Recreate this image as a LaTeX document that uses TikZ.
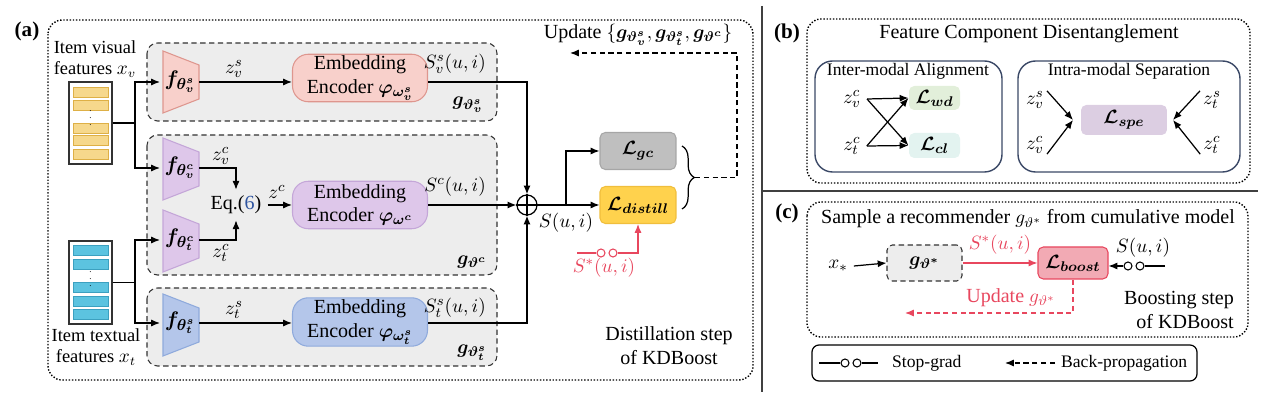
\documentclass[tikz,border=0pt]{standalone}
\usepackage{fontspec}
\setmainfont{Liberation Serif}
\usepackage{amsmath,amssymb,bm}
\usetikzlibrary{arrows.meta, calc, decorations.pathreplacing}
\definecolor{grpgray}{RGB}{237, 237, 237}
\definecolor{pinkfill}{RGB}{248, 208, 203}
\definecolor{pinkline}{RGB}{222, 150, 142}
\definecolor{purpfill}{RGB}{222, 199, 234}
\definecolor{purpline}{RGB}{196, 166, 216}
\definecolor{bluefill}{RGB}{180, 198, 234}
\definecolor{blueline}{RGB}{143, 170, 220}
\definecolor{distfill}{RGB}{255, 210, 77}
\definecolor{distline}{RGB}{240, 190, 60}
\definecolor{gcfill}{RGB}{191, 191, 191}
\definecolor{gcline}{RGB}{166, 166, 166}
\definecolor{baryel}{RGB}{246, 216, 140}
\definecolor{baryelline}{RGB}{222, 176, 70}
\definecolor{barcyan}{RGB}{92, 195, 224}
\definecolor{barcyanline}{RGB}{60, 160, 192}
\definecolor{sred}{RGB}{232, 71, 94}
\definecolor{boostfill}{RGB}{242, 170, 180}
\definecolor{navyline}{RGB}{58, 72, 102}
\definecolor{wdfill}{RGB}{226, 239, 218}
\definecolor{clfill}{RGB}{227, 243, 240}
\definecolor{spefill}{RGB}{220, 206, 226}
\definecolor{eqblue}{RGB}{46, 84, 160}
\newcommand{\ftrap}[3]{\draw[draw=#3, fill=#2, line width=0.6pt, shift={(#1)}]
  (-18,-31) -- (18,-17) -- (18,17) -- (-18,31) -- cycle;}

\begin{document}
\begin{tikzpicture}[x=0.02cm, y=-0.02cm, font=\fontsize{11.4}{13.5}\selectfont,
  arr/.style={-{Latex[length=5pt,width=4pt]}, line width=0.7pt},
  dsh/.style={dash pattern=on 3pt off 2pt},
  grp/.style={draw=black!80, dsh, line width=0.6pt, rounded corners=6pt, fill=grpgray},
  enc/.style={rounded corners=9pt, minimum width=2.7cm, minimum height=0.95cm, align=center,
    inner sep=1pt, line width=0.6pt},
  loss/.style={rounded corners=3pt, minimum width=1.52cm, minimum height=0.74cm, inner sep=1pt,
    line width=0.6pt},
  panel/.style={densely dotted, line width=0.8pt, rounded corners=8pt},
  fnode/.style={inner sep=0pt, font=\fontsize{12.5}{14}\selectfont},
  sgc/.style={circle, draw, inner sep=0pt, minimum size=0.16cm, line width=0.6pt},
  stack/.style={draw=black!80, line width=0.8pt, minimum width=0.86cm, inner sep=0pt},
  small/.style={font=\fontsize{10}{12}\selectfont},
]
\useasboundingbox (0,0) rectangle (1269,401);

% ---------------- (a) distillation step ----------------
\node[font=\bfseries\fontsize{12}{14}\selectfont] (la) at (27,31) {(a)};
\draw[panel] (48,20) rectangle (753,380);

% gruppi dei tre recommender
\draw[grp] (147,43) rectangle (497,121);
\draw[grp] (147,135) rectangle (497,275);
\draw[grp] (147,288) rectangle (497,366);

% feature degli item
\node[align=center, font=\fontsize{10.5}{12}\selectfont] (xvlab) at (95,59) {Item visual\\features $x_v$};
\node[align=center, font=\fontsize{10.5}{12}\selectfont] (xtlab) at (96,347) {Item textual\\features $x_t$};
\node[stack, minimum height=1.64cm] (xv) at (90.5,123) {};
\node[stack, minimum height=1.66cm] (xt) at (90.5,282.5) {};
\foreach \y in {92,105,128,140,154}
  \draw[fill=baryel, draw=baryelline, line width=0.4pt] (73,\y-5) rectangle (108,\y+5);
\foreach \y in {250,264,287,301,314}
  \draw[fill=barcyan, draw=barcyanline, line width=0.4pt] (73,\y-5) rectangle (108,\y+5);
\node[font=\tiny] at (90.5,113) {$\vdots$};
\node[font=\tiny] at (90.5,274) {$\vdots$};

% encoder di feature (trapezi)
\ftrap{181,82}{pinkfill}{pinkline}
\ftrap{181,169}{purpfill}{purpline}
\ftrap{181,241}{purpfill}{purpline}
\ftrap{181,325}{bluefill}{blueline}
\node[fnode] (fvs) at (180,82) {$\boldsymbol{f_{\theta_v^s}}$};
\node[fnode] (fvc) at (180,168) {$\boldsymbol{f_{\theta_v^c}}$};
\node[fnode] (ftc) at (180,240) {$\boldsymbol{f_{\theta_t^c}}$};
\node[fnode] (fts) at (180,323) {$\boldsymbol{f_{\theta_t^s}}$};
\coordinate (fvsin) at (160,82);
\coordinate (fvcin) at (160,168);
\coordinate (ftcin) at (160,240);
\coordinate (ftsin) at (160,323);
\coordinate (fvsout) at (199,82);
\coordinate (fvcout) at (199,168);
\coordinate (ftcout) at (199,240);
\coordinate (ftsout) at (199,323);

\draw[line width=0.7pt] (xv.east) -- (135,123) coordinate (jv);
\draw[arr] (jv) |- (fvsin);
\draw[arr] (jv) |- (fvcin);
\draw[line width=0.7pt] (xt.east) -- (135,282.5) coordinate (jt);
\draw[arr] (jt) |- (ftcin);
\draw[arr] (jt) |- (ftsin);

% embedding encoder
\node[enc, fill=pinkfill, draw=pinkline] (enc1) at (360,78) {Embedding\\Encoder $\boldsymbol{\varphi}_{\boldsymbol{\omega_v^s}}$};
\node[enc, fill=purpfill, draw=purpline] (enc2) at (360,205) {Embedding\\Encoder $\boldsymbol{\varphi}_{\boldsymbol{\omega^c}}$};
\node[enc, fill=bluefill, draw=blueline] (enc3) at (360,322) {Embedding\\Encoder $\boldsymbol{\varphi}_{\boldsymbol{\omega_t^s}}$};

\node (eq) at (236,205) {Eq.(\textcolor{eqblue}{6})};
\draw[arr] (fvsout) -- (enc1.west |- fvsout);
\draw[arr] (ftsout) -- (enc3.west |- ftsout);
\draw[arr] (fvcout) -| (eq.north);
\draw[arr] (ftcout) -| (eq.south);
\draw[arr] (eq.east) -- (enc2.west);
\node (zvs) at (234,69) {$z_v^s$};
\node (zts) at (234,310) {$z_t^s$};
\node (zvc) at (221,156) {$z_v^c$};
\node (ztc) at (221,253) {$z_t^c$};
\node (zc) at (277,192) {$z^c$};

\node (gvs) at (468,105) {$\boldsymbol{g_{\vartheta_v^s}}$};
\node (gc) at (472,262) {$\boldsymbol{g_{\vartheta^c}}$};
\node (gts) at (472,353) {$\boldsymbol{g_{\vartheta_t^s}}$};

% somma dei punteggi
\node[circle, draw, minimum size=0.4cm, inner sep=0pt, line width=0.7pt] (sum) at (527,205) {};
\draw[line width=0.7pt] (sum.north) -- (sum.south) (sum.west) -- (sum.east);
\draw[arr] (enc1.east |- fvsout) -| (sum.north);
\draw[arr] (enc2.east) -- (sum.west);
\draw[arr] (enc3.east |- ftsout) -| (sum.south);
\node[anchor=east] (svs) at (492,64) {$S_v^s(u,i)$};
\node[anchor=east] (sc) at (492,187) {$S^c(u,i)$};
\node[anchor=east] (sts) at (492,308) {$S_t^s(u,i)$};
\node (suilab) at (566,223) {$S(u,i)$};

% loss
\node[loss, fill=gcfill, draw=gcline] (lgc) at (638,151) {$\boldsymbol{\mathcal{L}_{gc}}$};
\node[loss, fill=distfill, draw=distline] (ldis) at (638,205) {$\boldsymbol{\mathcal{L}_{distill}}$};
\draw[arr] (sum.east) -- (ldis.west);
\draw[arr] (566,205) |- (lgc.west);

% stop-grad verso L_distill
\coordinate (sstar) at (577,253);
\node[sgc, draw=sred] (sa) at (601,253) {};
\node[sgc, draw=sred] (sb) at (613,253) {};
\draw[sred, line width=0.7pt] (sstar) -- (sa.west);
\draw[arr, sred] (sb.east) -| (ldis.south);
\node[text=sred] (sslab) at (604,268) {$S^*(u,i)$};

% parentesi e update
\draw[line width=0.7pt, decorate, decoration={brace, amplitude=7pt}] (682,146) -- (682,209);
\coordinate (btip) at (695,177.5);
\coordinate (updend) at (570,53);
\draw[arr, dsh] (btip) -- (737,177.5) |- (updend);
\node (updlab) at (638,35) {Update $\{\boldsymbol{g_{\vartheta_v^s}}, \boldsymbol{g_{\vartheta_t^s}}, \boldsymbol{g_{\vartheta^c}}\}$};
\node[align=center] (dstep) at (669,346) {Distillation step\\of KDBoost};

% ---------------- separatori ----------------
\draw[black!75, line width=0.8pt] (762,6) -- (762,392);
\draw[black!75, line width=0.8pt] (762,191) -- (1258,191);

% ---------------- (b) disentanglement ----------------
\node[font=\bfseries\fontsize{12}{14}\selectfont] (lb) at (787,33) {(b)};
\draw[panel] (807,19) rectangle (1250,183);
\node (btitle) at (1029,34) {Feature Component Disentanglement};
\draw[navyline, line width=0.8pt, rounded corners=10pt] (815,61) rectangle (1002,172);
\draw[navyline, line width=0.8pt, rounded corners=10pt] (1018,61) rectangle (1240,172);
\node[small] (intert) at (908,71) {Inter-modal Alignment};
\node[small] (intrat) at (1129,71) {Intra-modal Separation};

\node (zvc1) at (852,99) {$z_v^c$};
\node (ztc1) at (852,146) {$z_t^c$};
\node[loss, fill=wdfill, minimum width=1.02cm, minimum height=0.48cm] (lwd) at (934.5,98) {$\boldsymbol{\mathcal{L}_{wd}}$};
\node[loss, fill=clfill, minimum width=1.02cm, minimum height=0.5cm] (lcl) at (934.5,145.5) {$\boldsymbol{\mathcal{L}_{cl}}$};
\draw[arr] (zvc1.east) -- (lwd.west);
\draw[arr] (zvc1.east) -- (lcl.west);
\draw[arr] (ztc1.east) -- (lcl.west);
\draw[arr] (ztc1.east) -- (lwd.west);

\node (zvs2) at (1035,100) {$z_v^s$};
\node (zvc2) at (1035,145) {$z_v^c$};
\node (zts2) at (1212,100) {$z_t^s$};
\node (ztc2) at (1212,145) {$z_t^c$};
\node[loss, fill=spefill, minimum width=1.72cm, minimum height=0.6cm] (lspe) at (1124,120) {$\boldsymbol{\mathcal{L}_{spe}}$};
\coordinate (spel) at (1073,120);
\coordinate (sper) at (1173,120);
\draw[arr] (zvs2.north east) ++(-3,6) -- (spel);
\draw[arr] (zvc2.south east) ++(-3,-6) -- (spel);
\draw[arr] (zts2.north west) ++(3,6) -- (sper);
\draw[arr] (ztc2.south west) ++(3,-6) -- (sper);

% ---------------- (c) boosting step ----------------
\node[font=\bfseries\fontsize{12}{14}\selectfont] (lc) at (787,213) {(c)};
\draw[panel] (807,202) rectangle (1248,337);
\node (ctitle) at (1028,219) {Sample a recommender $g_{\vartheta^*}$ from cumulative model};
\node (xstar) at (838,266) {$x_*$};
\node[draw=black!80, dsh, fill=grpgray, rounded corners=3pt, minimum width=1.5cm, minimum height=0.72cm,
  line width=0.6pt] (gstar) at (924.5,263) {$\boldsymbol{g_{\vartheta^*}}$};
\node[loss, fill=boostfill, draw=sred, minimum width=1.4cm, minimum height=0.64cm] (lboost) at (1073,263) {$\boldsymbol{\mathcal{L}_{boost}}$};
\draw[arr] (xstar.east) -- (gstar.west);
\draw[arr, sred] (gstar.east) -- (lboost.west) node[midway, above=1pt] {$S^*(u,i)$};
\node (sui2) at (1143,248) {$S(u,i)$};
\coordinate (sgend) at (1165,266);
\node[sgc] (sc) at (1140,266) {};
\node[sgc] (sd) at (1128,266) {};
\draw[line width=0.7pt] (sgend) -- (sc.east);
\draw[arr] (sd.west) -- (lboost.east |- sd.west);
\coordinate (bupd) at (905,313);
\draw[arr, sred, dsh] (lboost.south) |- (bupd);
\node[text=sred] (bupdlab) at (1011,298) {Update $g_{\vartheta^*}$};
\node[align=right, anchor=east] (bstep) at (1240,310) {Boosting step\\of KDBoost};

% legenda
\draw[line width=0.7pt, rounded corners=4pt] (812,345) rectangle (1197,381);
\node[sgc] (le1) at (845,363) {};
\node[sgc] (le2) at (857,363) {};
\draw[line width=0.7pt] (819,363) -- (le1.west);
\draw[line width=0.7pt] (le2.east) -- (878,363);
\node[small, anchor=west] (sgtxt) at (886,363) {Stop-grad};
\node[small, anchor=west] (bptxt) at (1055,363) {Back-propagation};
\draw[arr, dsh] (bptxt.west) -- (1005,363);
\end{tikzpicture}
\end{document}
